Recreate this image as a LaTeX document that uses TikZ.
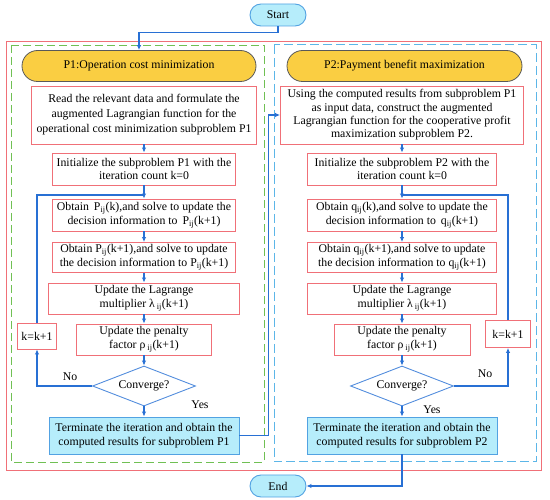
\documentclass[tikz,border=0pt]{standalone}
\usepackage{fontspec}
\setmainfont{Liberation Serif}
\usetikzlibrary{arrows.meta,shapes.geometric}
\definecolor{boxred}{RGB}{240,112,120}
\definecolor{flowblue}{RGB}{40,112,212}
\definecolor{dashblue}{RGB}{92,182,232}
\definecolor{dashgreen}{RGB}{112,192,84}
\definecolor{titlegold}{RGB}{250,206,66}
\definecolor{endcyan}{RGB}{182,237,251}
\definecolor{endline}{RGB}{82,162,226}

\begin{document}
\begin{tikzpicture}[x=1pt,y=-1pt,font=\fontsize{11.8}{13.8}\selectfont,
 redbox/.style={draw=boxred,line width=0.9pt,fill=white,align=center,inner sep=1pt},
 cyanbox/.style={draw=endline,line width=0.9pt,fill=endcyan,align=center,inner sep=1pt},
 pill/.style={cyanbox,rounded corners=11pt,minimum width=56pt,minimum height=22pt},
 titlebox/.style={draw=black!65,line width=0.8pt,fill=titlegold,rounded corners=15.5pt,
   minimum width=234pt,minimum height=31pt},
 askbox/.style={diamond,draw=flowblue!80,line width=0.9pt,aspect=2.5,inner sep=1pt,
   minimum width=103pt,minimum height=40pt},
 flow/.style={draw=flowblue,line width=1.1pt},
 arr/.style={flow,-{Latex[length=5pt,width=4.5pt]}}]
\useasboundingbox (0,0) rectangle (550,500);
\def\xa{144}
\def\xb{402}

%%%%%frames
\draw[boxred,line width=0.9pt] (6,41) rectangle (541,470);
\draw[dashgreen,line width=0.9pt,dash pattern=on 8pt off 4pt] (11,45) rectangle (264,462);
\draw[dashblue,line width=1pt,dash pattern=on 9pt off 4pt] (274,45) rectangle (536,462);

\node[pill] (start) at (278,15) {Start};
\node[pill] (stop) at (278,486) {End};

%%%%%subproblem P1
\node[titlebox] (ttl1) at (139,66) {P1:Operation cost minimization};
\node[redbox,minimum width=225pt,minimum height=58pt,font=\fontsize{11.8}{15}\selectfont] (rd1) at (\xa,115)
 {Read the relevant data and formulate the\\augmented Lagrangian function for the\\operational cost minimization subproblem P1};
\node[redbox,minimum width=183pt,minimum height=32pt] (ini1) at (\xa,169)
 {Initialize the subproblem P1 with the\\iteration count k=0};
\coordinate (j1) at (\xa,195);
\node[redbox,minimum width=183pt,minimum height=32pt] (ob1) at (\xa,215)
 {Obtain \,P\textsubscript{ij}(k),and solve to update the\\decision information to \,P\textsubscript{ij}(k+1)};
\node[redbox,minimum width=183pt,minimum height=30pt] (obb1) at (\xa,257.5)
 {Obtain P\textsubscript{ij}(k+1),and solve to update\\the decision information to P\textsubscript{ij}(k+1)};
\node[redbox,minimum width=191pt,minimum height=31pt] (lag1) at (\xa,298.5)
 {Update the Lagrange\\multiplier λ\,\textsubscript{ij}(k+1)};
\node[redbox,minimum width=135pt,minimum height=31pt] (pen1) at (\xa,339.5)
 {Update the penalty\\factor ρ\,\textsubscript{ij}(k+1)};
\node[askbox] (cnv1) at (\xa,386) {Converge?};
\node[cyanbox,minimum width=190pt,minimum height=37pt] (ter1) at (\xa,435.5)
 {Terminate the iteration and obtain the\\computed results for subproblem P1};
\node[redbox,minimum width=39pt,minimum height=26pt] (kk1) at (37,336) {k=k+1};
\node (no1) at (70,377) {No};
\node (yes1) at (200,405) {Yes};

%%%%%subproblem P2
\node[titlebox,minimum width=235pt] (ttl2) at (404.5,66) {P2:Payment benefit maximization};
\node[redbox,minimum width=243pt,minimum height=58pt,font=\fontsize{11.8}{13.4}\selectfont] (rd2) at (\xb,115)
 {Using the computed results from subproblem P1\\as input data, construct the augmented\\Lagrangian function for the cooperative profit\\maximization subproblem P2.};
\node[redbox,minimum width=189pt,minimum height=32pt] (ini2) at (\xb,169)
 {Initialize the subproblem P2 with the\\iteration count k=0};
\coordinate (j2) at (\xb,195);
\node[redbox,minimum width=189pt,minimum height=32pt] (ob2) at (\xb,215)
 {Obtain q\textsubscript{ij}(k),and solve to update the\\decision information to \,q\textsubscript{ij}(k+1)};
\node[redbox,minimum width=189pt,minimum height=30pt] (obb2) at (\xb,257.5)
 {Obtain q\textsubscript{ij}(k+1),and solve to update\\the decision information to q\textsubscript{ij}(k+1)};
\node[redbox,minimum width=189pt,minimum height=31pt] (lag2) at (\xb,298.5)
 {Update the Lagrange\\multiplier λ\,\textsubscript{ij}(k+1)};
\node[redbox,minimum width=136pt,minimum height=31pt] (pen2) at (\xb,339.5)
 {Update the penalty\\factor ρ\,\textsubscript{ij}(k+1)};
\node[askbox] (cnv2) at (\xb,386) {Converge?};
\node[cyanbox,minimum width=190pt,minimum height=37pt] (ter2) at (\xb,435.5)
 {Terminate the iteration and obtain the\\computed results for subproblem P2};
\node[redbox,minimum width=45pt,minimum height=27pt] (kk2) at (508,334) {k=k+1};
\node (no2) at (485,374) {No};
\node (yes2) at (432,410) {Yes};

%%%%%connectors
\draw[arr] (start.south) -- ++(0,6) -| (ttl1.north);
\draw[arr] (rd1) -- (ini1);
\draw[arr] (ini1) -- (ob1);
\draw[arr] (ob1) -- (obb1);
\draw[arr] (obb1) -- (lag1);
\draw[arr] (lag1) -- (pen1);
\draw[arr] (pen1) -- (cnv1);
\draw[arr] (cnv1) -- (ter1);
\draw[arr] (cnv1.west) -| (kk1.south);
\draw[flow] (kk1.north) |- (j1);
\draw[arr] (ter1.east) -- ++(29,0) |- (rd2.west);
\draw[arr] (rd2) -- (ini2);
\draw[arr] (ini2) -- (ob2);
\draw[arr] (ob2) -- (obb2);
\draw[arr] (obb2) -- (lag2);
\draw[arr] (lag2) -- (pen2);
\draw[arr] (pen2) -- (cnv2);
\draw[arr] (cnv2) -- (ter2);
\draw[arr] (cnv2.east) -| (kk2.south);
\draw[flow] (kk2.north) |- (j2);
\draw[arr] (ter2.south) |- (stop.east);
\end{tikzpicture}
\end{document}
